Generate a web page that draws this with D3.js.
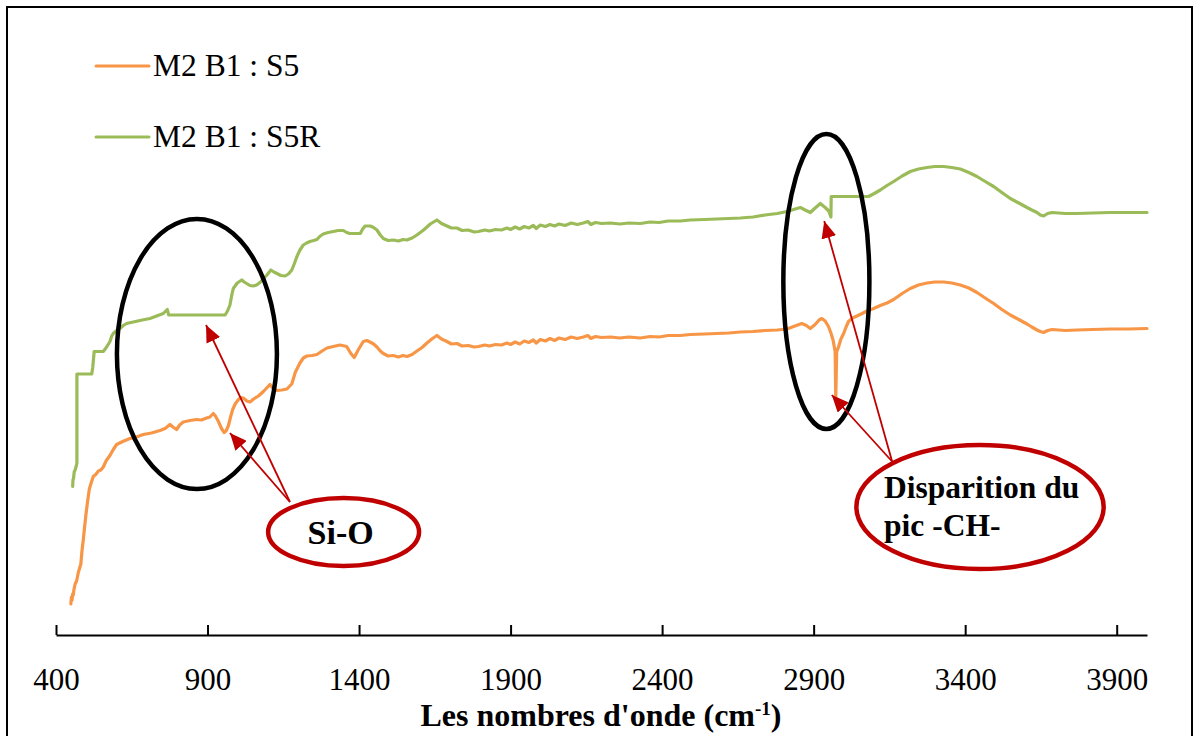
<!DOCTYPE html>
<html>
<head>
<meta charset="utf-8">
<script src="https://cdn.jsdelivr.net/npm/d3@7"></script>
<style>
  html, body { margin: 0; padding: 0; background: #fff; }
  svg { display: block; }
  text { font-family: "Liberation Serif", "Times New Roman", serif; fill: #000; }
</style>
</head>
<body>
<svg id="chart" width="1200" height="736"></svg>
<script>
// FTIR spectra: [wavenumber (cm-1), transmittance (a.u.)]
const seriesNames = ["M2 B1 : S5", "M2 B1 : S5R"];
const seriesColors = ["#F79646", "#9BBB59"];

const s5 = [
  [449, 6.2], [451, 7.6], [453, 7.0], [455, 8.2], [457, 8.0], [459, 9.0], [463, 10.2], [468, 10.8],
  [474, 12.6], [482, 14.2], [486, 17.0], [490, 19.0], [494, 21.4], [499, 24.2], [504, 26.6],
  [510, 29.2], [516, 30.4], [523, 31.7], [531, 32.1], [540, 32.8], [548, 33.0], [556, 33.6],
  [566, 34.9], [578, 35.9], [588, 37.0], [600, 38.1], [620, 38.7], [644, 39.3], [665, 39.6],
  [688, 40.1], [715, 40.4], [743, 40.9], [760, 41.3], [776, 42.1], [788, 41.5], [798, 41.1],
  [808, 42.0], [820, 42.6], [842, 42.9], [864, 43.1], [880, 43.0], [897, 43.4], [908, 43.6],
  [919, 44.3], [926, 43.8], [936, 42.7], [946, 41.3], [955, 40.5], [962, 40.9], [969, 41.9],
  [976, 43.6], [983, 45.1], [992, 46.3], [1002, 47.1], [1010, 47.5], [1018, 47.4],
  [1030, 46.8], [1040, 46.6], [1052, 47.2], [1068, 47.8], [1086, 48.8], [1106, 50.1],
  [1118, 49.2], [1129, 48.9], [1145, 49.0], [1162, 49.2], [1178, 50.2], [1190, 52.6],
  [1205, 54.4], [1216, 55.4], [1228, 55.8], [1245, 55.9], [1261, 56.1], [1278, 56.8],
  [1294, 57.4], [1315, 57.7], [1337, 58.0], [1359, 57.7], [1373, 56.3], [1384, 55.5],
  [1398, 57.1], [1414, 58.7], [1426, 58.9], [1436, 58.6], [1448, 58.2], [1459, 57.6],
  [1470, 56.8], [1480, 56.3], [1496, 55.8], [1513, 55.9], [1530, 55.6], [1545, 55.9],
  [1558, 55.7], [1575, 56.1], [1591, 56.8], [1608, 57.5], [1624, 58.4], [1640, 59.2],
  [1657, 59.9], [1672, 59.2], [1690, 58.7], [1705, 58.2], [1723, 58.3], [1740, 57.8],
  [1760, 57.9], [1780, 57.6], [1794, 57.7], [1815, 58.0], [1830, 57.8], [1850, 58.1],
  [1870, 58.0], [1888, 58.4], [1900, 58.1], [1915, 58.6], [1930, 58.2], [1945, 58.8],
  [1960, 58.5], [1975, 59.0], [1985, 58.4], [1998, 59.1], [2015, 58.8], [2030, 59.3],
  [2045, 58.9], [2060, 59.4], [2080, 59.1], [2100, 59.6], [2120, 59.3], [2140, 59.6],
  [2155, 59.9], [2165, 59.3], [2180, 59.7], [2200, 59.5], [2230, 59.6], [2260, 59.4],
  [2290, 59.6], [2328, 59.4], [2360, 59.7], [2390, 59.6], [2420, 59.9], [2460, 59.9],
  [2493, 60.1], [2540, 60.2], [2580, 60.3], [2620, 60.4], [2658, 60.6], [2700, 60.7],
  [2740, 60.9], [2780, 61.0], [2812, 61.2], [2834, 61.7], [2861, 62.3], [2876, 61.9],
  [2889, 61.3], [2905, 62.1], [2918, 63.0], [2927, 63.3], [2938, 62.8], [2949, 61.7],
  [2957, 60.4], [2964, 59], [2971, 56.7], [2973, 47.2], [2976, 56.6], [2982, 57.6],
  [2990, 59.2], [2999, 60.3], [3007, 61.6], [3015, 62.7], [3028, 63.4], [3043, 63.8],
  [3060, 64.3], [3076, 64.8], [3098, 65.3], [3120, 65.9], [3142, 66.4], [3164, 67.1],
  [3192, 68.3], [3219, 69.3], [3246, 70.0], [3274, 70.4], [3300, 70.6], [3329, 70.6],
  [3356, 70.4], [3384, 70.0], [3412, 69.4], [3439, 68.5], [3466, 67.4], [3494, 66.3],
  [3521, 65.1], [3549, 64.0], [3577, 63.1], [3604, 62.2], [3620, 61.6], [3637, 61.0],
  [3648, 60.7], [3659, 60.5], [3672, 60.9], [3687, 61.1], [3730, 60.9], [3769, 61.0],
  [3820, 61.1], [3879, 61.2], [3940, 61.2], [4000, 61.3]
];

const s5r = [
  [455, 29.7], [456, 31.0], [458, 31.4], [460, 32.6], [463, 33], [466, 33.6], [469, 34.4],
  [469, 52.2], [518, 52.2], [521, 53.4], [523, 54.7], [526, 56.7], [556, 56.7], [566, 57.5],
  [578, 58.7], [584, 59.8], [589, 60.3], [600, 60.9], [611, 61.3], [622, 61.9], [633, 62.3],
  [655, 62.6], [677, 62.9], [693, 63.1], [710, 63.3], [732, 63.8], [754, 64.3], [767, 65.1],
  [772, 64], [958, 64], [966, 64.8], [974, 66], [980, 68.0], [985, 69.3], [998, 70.4],
  [1013, 71], [1021, 70.6], [1029, 70.3], [1040, 69.9], [1051, 69.8], [1062, 70.0],
  [1073, 70.5], [1085, 71.3], [1096, 72], [1109, 73], [1119, 72.6], [1129, 72.3],
  [1142, 71.9], [1156, 71.8], [1167, 72.2], [1178, 73], [1186, 74.2], [1195, 75.7],
  [1205, 77.0], [1216, 78], [1227, 78.4], [1238, 78.7], [1250, 78.9], [1261, 79.1],
  [1272, 79.8], [1282, 80.2], [1298, 80.5], [1315, 80.7], [1331, 80.9], [1348, 80.9],
  [1359, 80.5], [1370, 80.3], [1387, 80.3], [1404, 80.3], [1412, 81.2], [1420, 81.8],
  [1437, 81.8], [1448, 81.5], [1459, 81], [1470, 80.0], [1480, 79.3], [1496, 78.9],
  [1513, 79.0], [1530, 78.8], [1545, 79.1], [1558, 79.0], [1575, 79.4], [1591, 80],
  [1613, 81.0], [1635, 82.2], [1646, 82.6], [1657, 83], [1672, 82.3], [1690, 81.8],
  [1705, 81.4], [1723, 81.4], [1740, 80.9], [1760, 81.0], [1780, 80.6], [1794, 80.7],
  [1815, 81.0], [1830, 80.8], [1850, 81.1], [1870, 81.0], [1888, 81.4], [1900, 81.1],
  [1915, 81.6], [1930, 81.2], [1945, 81.7], [1960, 81.4], [1975, 81.9], [1985, 81.3],
  [1998, 82.0], [2015, 81.7], [2030, 82.1], [2045, 81.8], [2060, 82.2], [2080, 81.9],
  [2100, 82.4], [2120, 82.1], [2140, 82.4], [2155, 82.7], [2165, 82.1], [2180, 82.5],
  [2200, 82.3], [2230, 82.4], [2260, 82.2], [2290, 82.4], [2328, 82.3], [2360, 82.6],
  [2390, 82.5], [2420, 82.8], [2460, 82.8], [2493, 83.0], [2540, 83.1], [2580, 83.2],
  [2620, 83.3], [2658, 83.4], [2700, 83.6], [2740, 84.0], [2780, 84.3], [2812, 84.7],
  [2834, 85.1], [2856, 85.5], [2872, 85.0], [2889, 84.5], [2905, 85.4], [2922, 86.3],
  [2938, 85.5], [2950, 84.8], [2957, 83.6], [2958, 87.7], [3081, 87.7], [3100, 88.3],
  [3120, 89], [3142, 89.9], [3164, 90.7], [3192, 91.8], [3219, 92.7], [3246, 93.2],
  [3274, 93.5], [3300, 93.7], [3329, 93.7], [3356, 93.5], [3384, 93.2], [3412, 92.5],
  [3439, 91.7], [3466, 90.7], [3494, 89.7], [3521, 88.5], [3549, 87.3], [3577, 86.4],
  [3604, 85.5], [3620, 85.0], [3637, 84.5], [3648, 84.0], [3659, 83.8], [3672, 84.3],
  [3687, 84.5], [3730, 84.3], [3769, 84.3], [3820, 84.4], [3879, 84.5], [3940, 84.5], [4000, 84.5]
];

const xTicks = [400, 900, 1400, 1900, 2400, 2900, 3400, 3900];

// Band annotations, in data units
const bandRings = [
  { wn: 865, val: 56.2, rwn: 264, rval: 27 },
  { wn: 2942, val: 70.7, rwn: 142, rval: 29.5 }
];
const callouts = [
  { wn: 1349, val: 20.6, rwn: 249, rval: 6.8, lines: ["Si-O"], from: [1172, 26.6],
    targets: [[895, 62], [974, 40.4]] },
  { wn: 3449, val: 25.6, rwn: 408, rval: 12.4, lines: ["Disparition du", "pic -CH-"], from: [3159, 34.7],
    targets: [[2935, 82.8], [2960, 48]] }
];

const svg = d3.select("#chart");

const x = d3.scaleLinear().domain([400, 4000]).range([56, 1147]);
const y = d3.scaleLinear().domain([0, 120]).range([635, 35]);

// frame
svg.append("rect")
  .attr("x", 7).attr("y", 7).attr("width", 1185).attr("height", 740)
  .attr("fill", "none").attr("stroke", "#000").attr("stroke-width", 2);

// x axis with inward ticks
const axis = svg.append("g").attr("transform", `translate(0,${y(0)})`);
axis.call(d3.axisBottom(x).tickValues(xTicks).tickSize(-10).tickSizeOuter(0).tickFormat(d3.format("d")));
axis.select(".domain").attr("stroke", "#000").attr("stroke-width", 2.2);
axis.selectAll(".tick line").attr("stroke", "#000").attr("stroke-width", 2);
axis.selectAll(".tick text")
  .attr("y", 55).attr("dy", null)
  .style("font-family", "'Liberation Serif', 'Times New Roman', serif")
  .style("font-size", "31px").attr("fill", "#000");

// axis title
const title = svg.append("text")
  .attr("x", 601).attr("y", 726)
  .attr("text-anchor", "middle")
  .style("font-size", "32px").style("font-weight", "bold");
title.append("tspan").text("Les nombres d'onde (cm");
title.append("tspan").attr("dy", -11).style("font-size", "19px").text("-1");
title.append("tspan").attr("dy", 11).text(")");

// spectra
const line = d3.line().x(d => x(d[0])).y(d => y(d[1]));
[s5, s5r].forEach((data, i) => {
  svg.append("path")
    .datum(data)
    .attr("d", line)
    .attr("fill", "none")
    .attr("stroke", seriesColors[i])
    .attr("stroke-width", 3.2)
    .attr("stroke-linejoin", "round")
    .attr("stroke-linecap", "round");
});

// legend
const legend = svg.append("g");
seriesNames.forEach((name, i) => {
  const ly = 66 + i * 71;
  legend.append("line")
    .attr("x1", 96).attr("x2", 149).attr("y1", ly).attr("y2", ly)
    .attr("stroke", seriesColors[i]).attr("stroke-width", 3).attr("stroke-linecap", "round");
  legend.append("text")
    .attr("x", 153).attr("y", ly + 10)
    .style("font-size", "31.5px")
    .text(name);
});

// band rings
bandRings.forEach(r => {
  svg.append("ellipse")
    .attr("cx", x(r.wn)).attr("cy", y(r.val))
    .attr("rx", x(r.wn + r.rwn) - x(r.wn))
    .attr("ry", y(r.val - r.rval) - y(r.val))
    .attr("fill", "none").attr("stroke", "#000").attr("stroke-width", 4.5);
});

// arrow heads
svg.append("defs").append("marker")
  .attr("id", "head")
  .attr("viewBox", "0 0 17 15")
  .attr("refX", 17).attr("refY", 7.5)
  .attr("markerWidth", 17).attr("markerHeight", 15)
  .attr("markerUnits", "userSpaceOnUse")
  .attr("orient", "auto")
  .append("path").attr("d", "M0,0 L17,7.5 L0,15 Z").attr("fill", "#C00000");

// callouts
callouts.forEach(c => {
  c.targets.forEach(t => {
    svg.append("line")
      .attr("x1", x(c.from[0])).attr("y1", y(c.from[1]))
      .attr("x2", x(t[0])).attr("y2", y(t[1]))
      .attr("stroke", "#C00000").attr("stroke-width", 1.8)
      .attr("marker-end", "url(#head)");
  });
  const cx = x(c.wn), cy = y(c.val);
  svg.append("ellipse")
    .attr("cx", cx).attr("cy", cy)
    .attr("rx", x(c.wn + c.rwn) - cx)
    .attr("ry", y(c.val - c.rval) - cy)
    .attr("fill", "#fff").attr("stroke", "#C00000").attr("stroke-width", 4.5);
  if (c.lines.length === 1) {
    svg.append("text")
      .attr("x", cx - 3).attr("y", cy + 12)
      .attr("text-anchor", "middle")
      .style("font-size", "34px").style("font-weight", "bold")
      .text(c.lines[0]);
  } else {
    c.lines.forEach((t, k) => {
      svg.append("text")
        .attr("x", cx - 96).attr("y", cy - 9 + k * 38)
        .style("font-size", "31.5px").style("font-weight", "bold")
        .text(t);
    });
  }
});
</script>
</body>
</html>
